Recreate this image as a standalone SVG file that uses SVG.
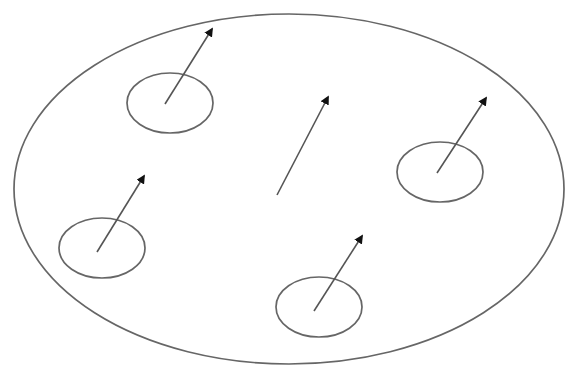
<svg xmlns="http://www.w3.org/2000/svg" width="567" height="368" viewBox="0 0 567 368">
<style>
.o{fill:none;stroke:#666;stroke-width:1.7}
.a{fill:none;stroke:#555;stroke-width:1.6}
</style>
<defs>
<marker id="h" viewBox="0 0 10 10" refX="8" refY="5" markerWidth="9" markerHeight="9" markerUnits="userSpaceOnUse" orient="auto">
<path d="M0,0 L10,5 L0,10 z" fill="#111"/>
</marker>
</defs>
<rect width="567" height="368" fill="#fff"/>
<g id="boundary"><ellipse class="o" cx="289" cy="189" rx="275" ry="175"/></g>
<g id="n1"><ellipse class="o" cx="170" cy="103" rx="43" ry="30"/></g>
<g id="n2"><ellipse class="o" cx="440" cy="172" rx="43" ry="30"/></g>
<g id="n3"><ellipse class="o" cx="102" cy="248" rx="43" ry="30"/></g>
<g id="n4"><ellipse class="o" cx="319" cy="307" rx="43" ry="30"/></g>
<g id="connectors">
<line class="a" x1="165" y1="104" x2="212" y2="29" marker-end="url(#h)"/>
<line class="a" x1="437" y1="173" x2="486" y2="98" marker-end="url(#h)"/>
<line class="a" x1="97" y1="252" x2="144" y2="176" marker-end="url(#h)"/>
<line class="a" x1="314" y1="311" x2="362" y2="236" marker-end="url(#h)"/>
<line class="a" x1="277" y1="195" x2="328" y2="97" marker-end="url(#h)"/>
</g>
</svg>
